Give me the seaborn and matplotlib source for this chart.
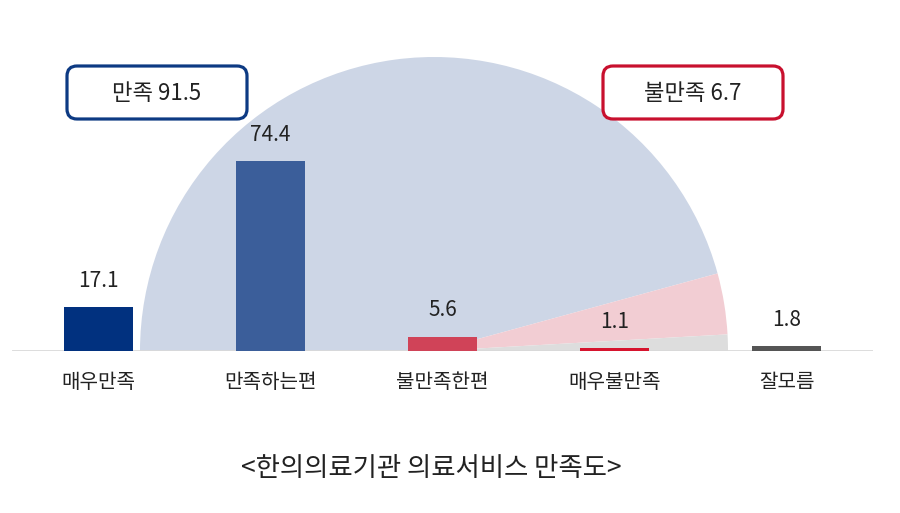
import matplotlib
matplotlib.use("Agg")
import matplotlib.pyplot as plt
from matplotlib.patches import FancyBboxPatch
import seaborn as sns

# --- datos ---
categorias = ["매우만족", "만족하는편", "불만족한편", "매우불만족", "잘모름"]
valores = [17.1, 74.4, 5.6, 1.1, 1.8]
colores_barras = ["#01317F", "#3B5E9A", "#D04358", "#D6142E", "#555555"]

grupos = ["만족", "불만족", "잘모름"]
valores_grupos = [round(valores[0] + valores[1], 1), round(valores[2] + valores[3], 1), valores[4]]
colores_grupos = ["#CDD6E6", "#F2CDD3", "#DDDDDD"]

titulo = "<한의의료기관 의료서비스 만족도>"

sns.set_theme(style="white")
plt.rcParams["font.family"] = ["Noto Sans CJK KR", "DejaVu Sans"]

fig = plt.figure(figsize=(9, 5.13), dpi=100)

# semicirculo de fondo (pie de media vuelta)
ax_pie = fig.add_axes([140 / 900, (162 - 294) / 513, 588 / 900, 588 / 513], zorder=0)
ax_pie.pie(valores_grupos + [sum(valores_grupos)], colors=colores_grupos + ["none"],
           startangle=180, counterclock=False, radius=1,
           wedgeprops=dict(edgecolor="none", linewidth=0))
ax_pie.set_xlim(-1, 1)
ax_pie.set_ylim(-1, 1)
ax_pie.set_aspect("auto")
ax_pie.axis("off")

# barras
ax = fig.add_axes([12 / 900, 162 / 513, 861 / 900, 321 / 513], zorder=1)
ax.patch.set_alpha(0)
sns.barplot(x=categorias, y=valores, hue=categorias, palette=colores_barras,
            legend=False, width=0.4, ax=ax, saturation=1, linewidth=0, edgecolor="none")
for c in ax.containers:
    ax.bar_label(c, fmt="%.1f", padding=11, fontsize=15, color="#222222")

ax.set_xlim(-0.5, 4.5)
ax.set_ylim(0, 125.7)
ax.axhline(0, color="#D9D9D9", lw=2, zorder=0)
for s in ax.spines.values():
    s.set_visible(False)
ax.set_yticks([])
ax.set_xlabel("")
ax.set_ylabel("")
ax.tick_params(axis="x", length=0, pad=15, labelsize=14.5, labelcolor="#222222")

# cuadros de resumen
cuadros = [
    (f"만족 {valores_grupos[0]}", 67, 119, "#0D3A83"),
    (f"불만족 {valores_grupos[1]}", 603, 119, "#C8102E"),
]
for texto, x0, y0, col in cuadros:
    caja = FancyBboxPatch((x0 / 100, (513 - y0) / 100), 1.80, 0.53,
                          boxstyle="round,pad=0,rounding_size=0.1",
                          transform=fig.dpi_scale_trans, facecolor="white",
                          edgecolor=col, linewidth=2.3, zorder=5)
    fig.add_artist(caja)
    fig.text((x0 + 90) / 900, (513 - y0 + 26) / 513, texto, ha="center", va="center",
             fontsize=16, color="#222222", zorder=6)

fig.text(431 / 900, (513 - 469) / 513, titulo, ha="center", va="center",
         fontsize=19, color="#222222")

fig.savefig("out.png", dpi=100)
